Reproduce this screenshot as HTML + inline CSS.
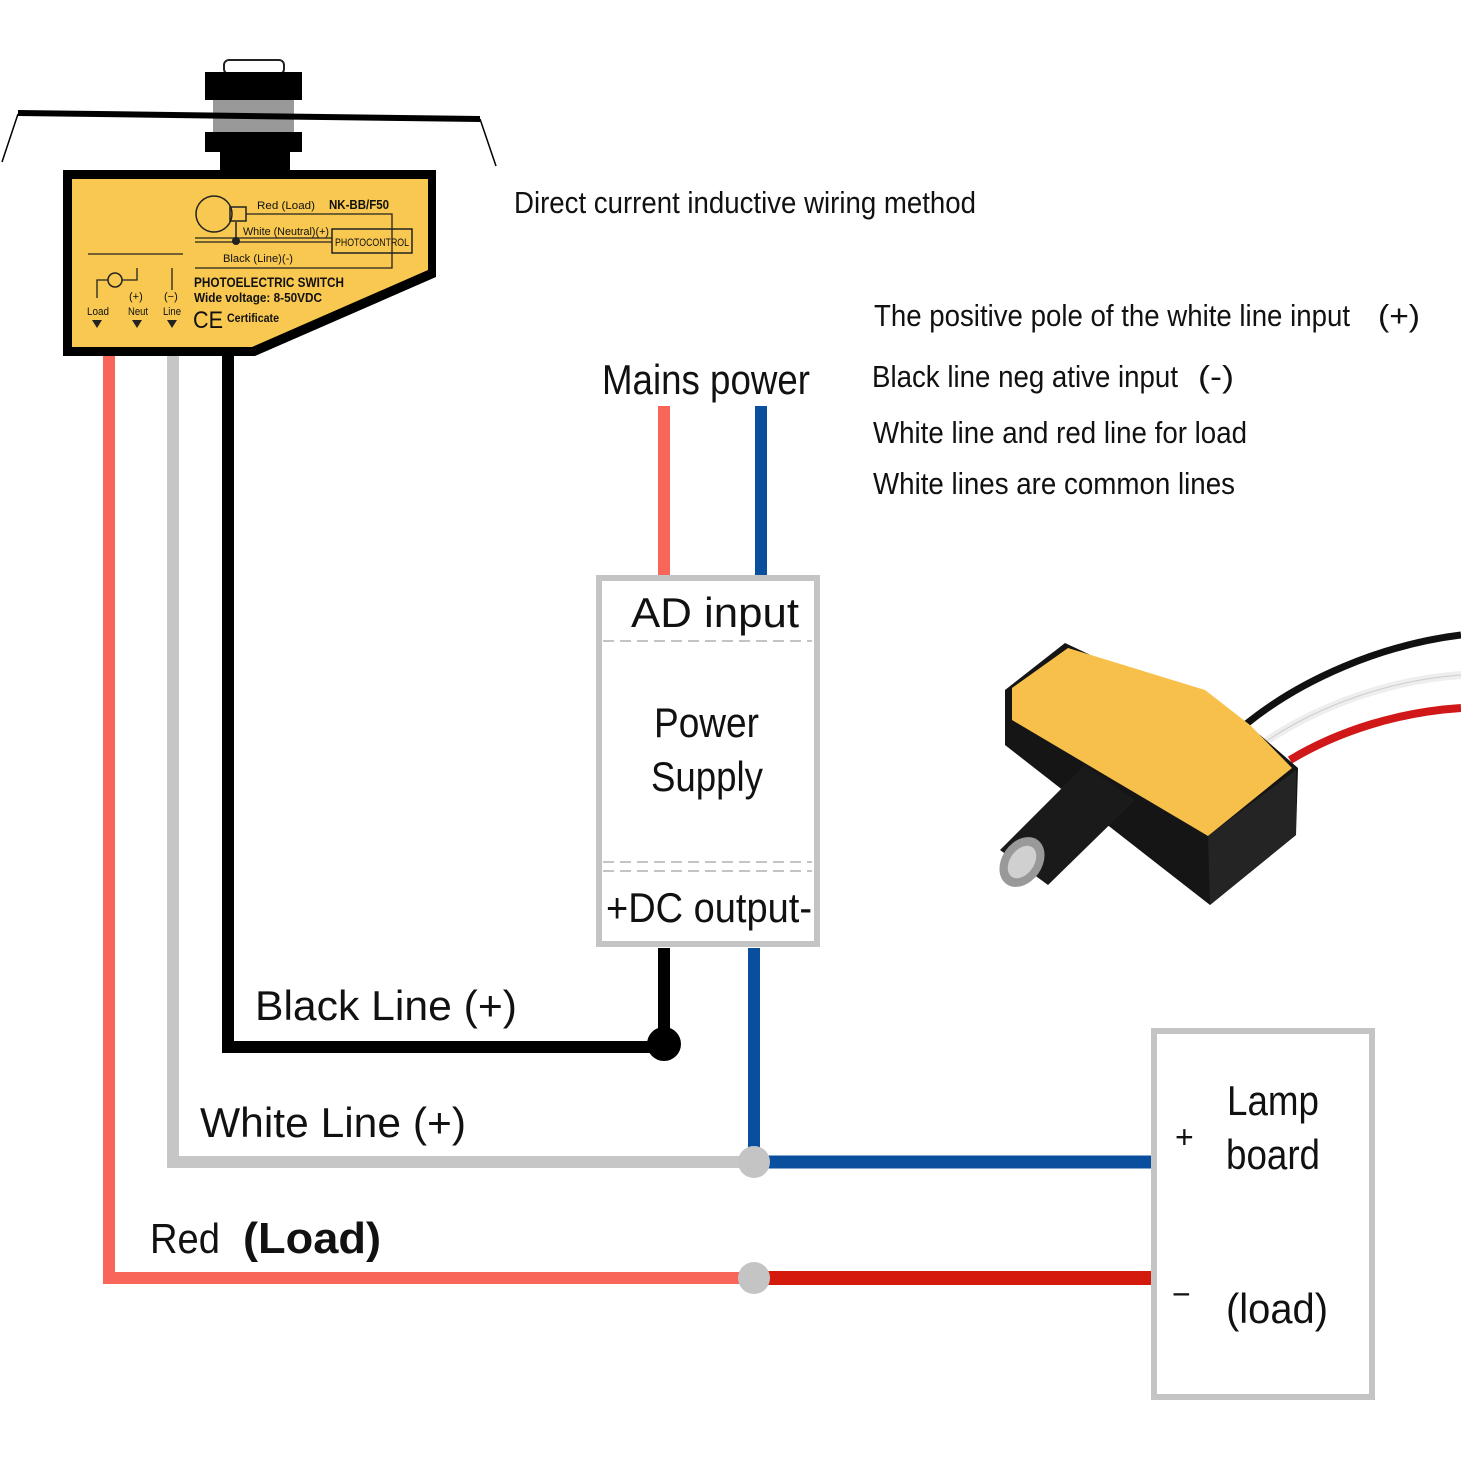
<!DOCTYPE html>
<html><head><meta charset="utf-8"><style>
html,body{margin:0;padding:0;background:#fff;}
svg{display:block;}
text{font-family:"Liberation Sans",sans-serif;fill:#111;}
</style></head><body>
<svg width="1461" height="1461" viewBox="0 0 1461 1461" xmlns="http://www.w3.org/2000/svg">
<rect width="1461" height="1461" fill="#fff"/>
<!-- top sensor -->
<rect x="224" y="60" width="60" height="14" rx="5" fill="#fff" stroke="#222" stroke-width="2"/>
<rect x="205" y="72" width="97" height="28" fill="#000"/>
<rect x="213" y="100" width="81" height="32" fill="#999"/>
<rect x="205" y="132" width="97" height="20" fill="#000"/>
<rect x="220" y="150" width="70" height="24" fill="#000"/>
<polygon points="18,110 480,116 480,122 18,116" fill="#000"/>
<line x1="18" y1="114" x2="2" y2="162" stroke="#000" stroke-width="1.5"/>
<line x1="480" y1="119" x2="496" y2="166" stroke="#000" stroke-width="1.5"/>
<!-- yellow box -->
<polygon points="63,170 436,170 436,277 255,356 63,356" fill="#000"/>
<polygon points="72,179 428,179 428,270 252,347 72,347" fill="#f8c850"/>
<!-- label details -->
<circle cx="214" cy="214" r="18" fill="none" stroke="#222" stroke-width="1.5"/>
<rect x="230" y="207" width="16" height="14" fill="none" stroke="#222" stroke-width="1.5"/>
<path d="M246,214 H392 V268 H195 M195,238 H332 M195,242 H332" fill="none" stroke="#222" stroke-width="1.3"/>
<path d="M236,222 V240" stroke="#222" stroke-width="1.5"/>
<circle cx="236" cy="241" r="4" fill="#222"/>
<rect x="332" y="229" width="80" height="24" fill="none" stroke="#222" stroke-width="1.5"/>
<text x="335" y="246" font-size="11" textLength="74" lengthAdjust="spacingAndGlyphs">PHOTOCONTROL</text>
<text x="257" y="209" font-size="11" textLength="58" lengthAdjust="spacingAndGlyphs">Red  (Load)</text>
<text x="329" y="209" font-size="13" font-weight="bold" textLength="60" lengthAdjust="spacingAndGlyphs">NK-BB/F50</text>
<text x="243" y="235" font-size="11" textLength="86" lengthAdjust="spacingAndGlyphs">White  (Neutral)(+)</text>
<text x="223" y="262" font-size="11" textLength="70" lengthAdjust="spacingAndGlyphs">Black  (Line)(-)</text>
<text x="194" y="287" font-size="14" font-weight="bold" textLength="150" lengthAdjust="spacingAndGlyphs">PHOTOELECTRIC SWITCH</text>
<text x="194" y="302" font-size="13" font-weight="bold" textLength="128" lengthAdjust="spacingAndGlyphs">Wide voltage: 8-50VDC</text>
<text x="193" y="328" font-size="24" textLength="30" lengthAdjust="spacingAndGlyphs">CE</text>
<text x="227" y="322" font-size="12" font-weight="bold" textLength="52" lengthAdjust="spacingAndGlyphs">Certificate</text>
<line x1="88" y1="254" x2="183" y2="254" stroke="#222" stroke-width="1.3"/>
<circle cx="115" cy="280" r="7" fill="none" stroke="#222" stroke-width="1.5"/>
<path d="M97,298 V280 H108 M122,280 H137 V268 M172,268 V290" fill="none" stroke="#222" stroke-width="1.3"/>
<text x="129" y="300" font-size="11">(+)</text><text x="164" y="300" font-size="11">(−)</text>
<text x="87" y="315" font-size="11" textLength="22" lengthAdjust="spacingAndGlyphs">Load</text>
<text x="128" y="315" font-size="11" textLength="20" lengthAdjust="spacingAndGlyphs">Neut</text>
<text x="163" y="315" font-size="11" textLength="18" lengthAdjust="spacingAndGlyphs">Line</text>
<path d="M92,320 h10 l-5,8z M132,320 h10 l-5,8z M167,320 h10 l-5,8z" fill="#222"/>
<!-- wires from sensor -->
<polyline points="109,356 109,1278 745,1278" fill="none" stroke="#f8665a" stroke-width="12"/>
<polyline points="173,356 173,1162 745,1162" fill="none" stroke="#c6c6c6" stroke-width="12"/>
<polyline points="228,356 228,1047 664,1047 664,948" fill="none" stroke="#000" stroke-width="12"/>
<line x1="754" y1="948" x2="754" y2="1155" stroke="#0a4f9e" stroke-width="12"/>
<line x1="765" y1="1162" x2="1152" y2="1162" stroke="#0a4f9e" stroke-width="13"/>
<line x1="765" y1="1278" x2="1152" y2="1278" stroke="#d41a0c" stroke-width="14"/>
<circle cx="664" cy="1044" r="17" fill="#000"/>
<circle cx="754" cy="1162" r="16" fill="#c4c4c4"/>
<circle cx="754" cy="1278" r="16" fill="#c4c4c4"/>
<!-- mains -->
<line x1="664" y1="406" x2="664" y2="577" stroke="#f8665a" stroke-width="12"/>
<line x1="761" y1="406" x2="761" y2="577" stroke="#0a4f9e" stroke-width="12"/>
<text x="602" y="394" font-size="42" textLength="208" lengthAdjust="spacingAndGlyphs">Mains power</text>
<!-- power supply -->
<rect x="599" y="578" width="218" height="366" fill="#fff" stroke="#c4c4c4" stroke-width="6"/>
<line x1="603" y1="641" x2="812" y2="641" stroke="#c4c4c4" stroke-width="2" stroke-dasharray="11,6"/>
<line x1="603" y1="862" x2="812" y2="862" stroke="#c4c4c4" stroke-width="2" stroke-dasharray="11,6"/>
<line x1="603" y1="871" x2="812" y2="871" stroke="#c4c4c4" stroke-width="2" stroke-dasharray="11,6"/>
<text x="631" y="627" font-size="42" textLength="168" lengthAdjust="spacingAndGlyphs">AD   input</text>
<text x="654" y="737" font-size="42" textLength="105" lengthAdjust="spacingAndGlyphs">Power</text>
<text x="651" y="791" font-size="42" textLength="112" lengthAdjust="spacingAndGlyphs">Supply</text>
<text x="606" y="922" font-size="42" textLength="206" lengthAdjust="spacingAndGlyphs">+DC output-</text>
<!-- lamp board -->
<rect x="1154" y="1031" width="218" height="366" fill="#fff" stroke="#c4c4c4" stroke-width="6"/>
<text x="1227" y="1115" font-size="42" textLength="92" lengthAdjust="spacingAndGlyphs">Lamp</text>
<text x="1226" y="1169" font-size="42" textLength="94" lengthAdjust="spacingAndGlyphs">board</text>
<text x="1175" y="1148" font-size="32">+</text>
<text x="1172" y="1305" font-size="32">−</text>
<text x="1226" y="1323" font-size="42" textLength="102" lengthAdjust="spacingAndGlyphs">(load)</text>
<!-- labels -->
<text x="514" y="213" font-size="31" textLength="462" lengthAdjust="spacingAndGlyphs">Direct current inductive wiring method</text>
<text x="874" y="326" font-size="31" textLength="476" lengthAdjust="spacingAndGlyphs">The positive pole of the white line input</text>
<text x="1378" y="326" font-size="31" textLength="42" lengthAdjust="spacingAndGlyphs">(+)</text>
<text x="872" y="387" font-size="31" textLength="306" lengthAdjust="spacingAndGlyphs">Black line neg ative input</text>
<text x="1198" y="387" font-size="31" textLength="36" lengthAdjust="spacingAndGlyphs">(-)</text>
<text x="873" y="443" font-size="31" textLength="374" lengthAdjust="spacingAndGlyphs">White line and red line for load</text>
<text x="873" y="494" font-size="31" textLength="362" lengthAdjust="spacingAndGlyphs">White lines are common lines</text>
<text x="255" y="1020" font-size="42" textLength="262" lengthAdjust="spacingAndGlyphs">Black Line  (+)</text>
<text x="200" y="1137" font-size="42" textLength="266" lengthAdjust="spacingAndGlyphs">White Line  (+)</text>
<text x="150" y="1253" font-size="42" textLength="70" lengthAdjust="spacingAndGlyphs">Red</text>
<text x="243" y="1253" font-size="44" font-weight="bold" textLength="138" lengthAdjust="spacingAndGlyphs">(Load)</text>
<!-- product photo -->
<path d="M1245,725 C1300,680 1380,645 1461,635" fill="none" stroke="#111" stroke-width="7"/>
<path d="M1265,742 C1320,705 1390,680 1461,675" fill="none" stroke="#eee" stroke-width="8"/>
<path d="M1265,742 C1320,705 1390,680 1461,675" fill="none" stroke="#ccc" stroke-width="1"/>
<path d="M1290,760 C1340,730 1400,712 1461,708" fill="none" stroke="#d01818" stroke-width="8"/>
<polygon points="1005,690 1065,643 1260,735 1298,768 1296,835 1210,905 1005,745" fill="#151515"/>
<polygon points="1012,688 1068,648 1205,690 1250,725 1292,768 1208,836 1012,720" fill="#f6c04a"/>
<polygon points="1208,836 1296,770 1296,835 1210,905" fill="#242424"/>
<polygon points="1085,765 1135,800 1048,885 1000,850" fill="#1a1a1a"/>
<ellipse cx="1022" cy="862" rx="20" ry="27" fill="#999" transform="rotate(35 1022 862)"/>
<ellipse cx="1022" cy="862" rx="12" ry="18" fill="#d0d0d0" transform="rotate(35 1022 862)"/>
</svg>
</body></html>
